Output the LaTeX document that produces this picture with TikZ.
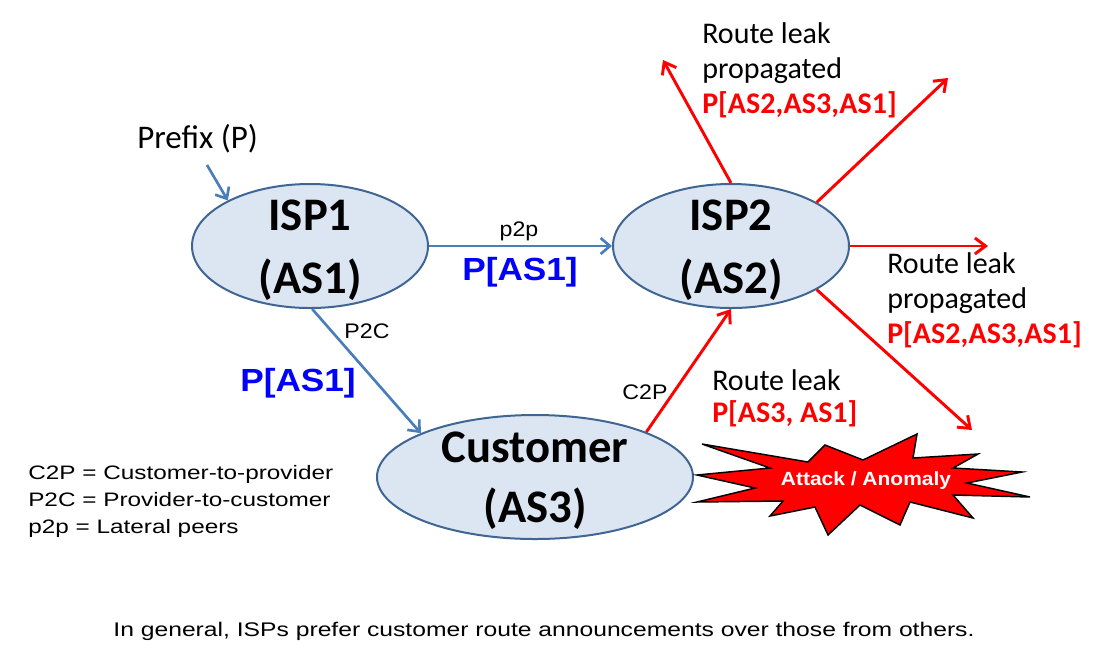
\documentclass[tikz,border=0pt]{standalone}
\usepackage{fontspec}
\setmainfont{Carlito}
\newfontfamily\arialw[FakeStretch=1.25]{Liberation Sans}
\newfontfamily\arialm[FakeStretch=1.1]{Liberation Sans}
\usetikzlibrary{shapes.geometric,arrows.meta}
\definecolor{ellfill}{HTML}{DCE6F2}
\definecolor{elldraw}{HTML}{3F6593}
\definecolor{linkblue}{HTML}{4A7EBB}
\definecolor{txtblue}{HTML}{0000FF}
\definecolor{leakred}{HTML}{FF0000}
\tikzset{
  asnode/.style={ellipse, draw=elldraw, fill=ellfill, line width=1.5pt,
    minimum width=177pt, minimum height=93pt, inner sep=0pt},
  astext/.style={font=\fontsize{35}{47.5}\selectfont\bfseries, align=center, inner sep=0pt, yshift=-3pt},
  bluelink/.style={draw=linkblue, line width=2pt, -{Straight Barb[length=7pt,width=12pt]}},
  redlink/.style={draw=leakred, line width=2.2pt, -{Straight Barb[length=8pt,width=12pt]}},
  smalllbl/.style={font=\arialm\fontsize{15.8}{18}\selectfont, inner sep=0pt},
  bluelbl/.style={font=\arialm\fontsize{24}{27}\selectfont\bfseries, text=txtblue, inner sep=0pt},
  leaktext/.style={font=\fontsize{22.5}{26.25}\selectfont, align=left, inner sep=0pt, anchor=base west},
}
\begin{document}
\begin{tikzpicture}[x=0.75pt,y=-0.75pt]
\useasboundingbox (0,0) rectangle (1106,669);

% AS nodes
\node[asnode, label={[astext]center:ISP1\\(AS1)}] (isp1) at (310,246) {};
\node[asnode, label={[astext]center:ISP2\\(AS2)}] (isp2) at (731,246) {};
\node[asnode, minimum width=237pt, label={[astext, font=\fontsize{35}{45}\selectfont\bfseries]center:Customer\\(AS3)}] (cust) at (535,477) {};

% prefix
\node[font=\fontsize{24.75}{30}\selectfont, anchor=base west, inner sep=0pt] (pfx) at (137,148) {Prefix (P)};
\coordinate (pfxtail) at (207,165);
\draw[bluelink] (pfxtail) -- (isp1.151);

% p2p
\draw[bluelink] (isp1.east) -- (isp2.west);
\node[smalllbl] (lp2p) at (519,231) {p2p};
\node[bluelbl] (pas1a) at (520,272) {P[AS1]};

% P2C
\draw[bluelink] (isp1.-88) -- (cust.159);
\node[smalllbl] (lp2c) at (367,331) {P2C};
\node[bluelbl] (pas1b) at (298,383) {P[AS1]};

% C2P
\draw[redlink] (cust.22) -- (isp2.-90);
\node[smalllbl] (lc2p) at (645,392) {C2P};
\node[leaktext, font=\fontsize{22.5}{24}\selectfont] (leak1) at (712,422) {Route leak\\\textcolor{leakred}{\bfseries P[AS3, AS1]}};

% propagated leaks
\coordinate (e1) at (663,60);
\coordinate (e2) at (948,78);
\coordinate (e3) at (988,246);
\coordinate (e4) at (972,430);
\draw[redlink] (isp2.north) -- (e1);
\draw[redlink] (isp2.27) -- (e2);
\draw[redlink] (isp2.east) -- (e3);
\draw[redlink] (isp2.-27) -- (e4);
\node[leaktext] (leak2) at (702,113) {Route leak\\propagated\\\textcolor{leakred}{\bfseries P[AS2,AS3,AS1]}};
\node[leaktext] (leak3) at (887,343) {Route leak\\propagated\\\textcolor{leakred}{\bfseries P[AS2,AS3,AS1]}};

% attack star
\filldraw[fill=leakred, draw=black, line width=1.1pt, line join=miter]
  (702,444) -- (808,462) -- (825,445) -- (863,460) -- (917,434) -- (913,458)
  -- (978,454) -- (953,468) -- (1022,472) -- (967,483) -- (1030,497)
  -- (953,495) -- (973,518) -- (910,502) -- (900,525) -- (860,505)
  -- (828,535) -- (815,507) -- (770,516) -- (783,501) -- (697,502)
  -- (755,488) -- (697,475) -- (770,468) -- cycle;
\node[font=\arialm\fontsize{14.3}{16}\selectfont\bfseries, text=white, inner sep=0pt] (attack) at (866,481) {Attack / Anomaly};

% legend
\node[font=\arialw\fontsize{14.6}{20.25}\selectfont, align=left, anchor=base west, inner sep=0pt] (legend) at (28,533)
  {C2P = Customer-to-provider\\P2C = Provider-to-customer\\p2p = Lateral peers};

% caption
\node[font=\arialw\fontsize{14.8}{18}\selectfont, anchor=base, inner sep=0pt] (caption) at (544,636)
  {In general, ISPs prefer customer route announcements over those from others.};
\end{tikzpicture}
\end{document}
